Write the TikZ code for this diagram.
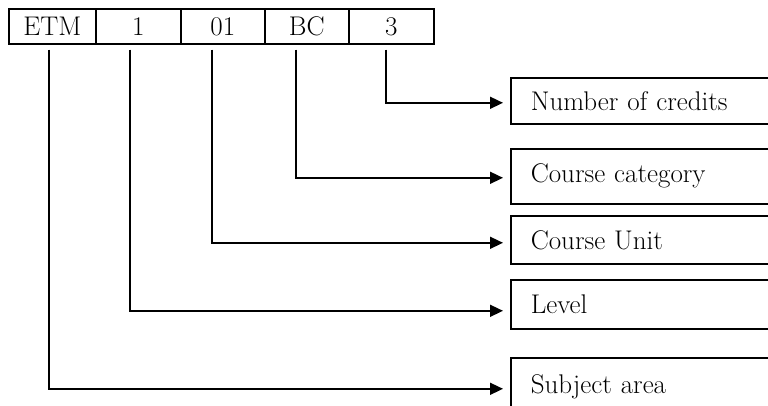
\documentclass[tikz,border=0pt]{standalone}
\usetikzlibrary{arrows.meta}
\begin{document}
\begin{tikzpicture}[x=1pt,y=-1pt,
  txt/.style={font=\fontsize{27}{32}\selectfont},
  cell/.style={draw, line width=1.6pt, inner sep=0pt, minimum height=35pt, anchor=north west, txt},
  rbox/.style={draw, line width=1.6pt, anchor=north west, text width=250pt, inner xsep=20pt, inner ysep=0pt, align=left, txt},
  conn/.style={line width=1.6pt, -{Triangle[length=13pt,width=12pt]}}]
\useasboundingbox (0,0) rectangle (768,406);
\clip (0,0) rectangle (768,406);
% top code cells
\node[cell, minimum width=87pt] (c1) at (8,8) {ETM};
\node[cell, minimum width=85pt] (c2) at (95,8) {1};
\node[cell, minimum width=84pt] (c3) at (180,8) {01};
\node[cell, minimum width=84pt] (c4) at (264,8) {BC};
\node[cell, minimum width=85pt] (c5) at (348,8) {3};
% description boxes
\node[rbox, minimum height=46pt] (credits) at (510,77) {Number of credits};
\node[rbox, minimum height=55pt] (cat) at (510,148) {Course category};
\node[rbox, minimum height=48pt] (unit) at (510,215) {Course Unit};
\node[rbox, minimum height=49pt] (level) at (510,279) {Level};
\node[rbox, minimum height=58pt] (subj) at (510,357) {Subject area};
% connectors
\draw[conn] ([xshift=-5.5pt,yshift=-5pt]c5.south) |- ([xshift=-7pt,yshift=-2pt]credits.west);
\draw[conn] ([xshift=-11pt,yshift=-5pt]c4.south) |- ([xshift=-7pt,yshift=-1.5pt]cat.west);
\draw[conn] ([xshift=-11pt,yshift=-5pt]c3.south) |- ([xshift=-7pt,yshift=-3pt]unit.west);
\draw[conn] ([xshift=-8.5pt,yshift=-5pt]c2.south) |- ([xshift=-7pt,yshift=-6.5pt]level.west);
\draw[conn] ([xshift=-3.5pt,yshift=-5pt]c1.south) |- ([xshift=-7pt,yshift=-2pt]subj.west);
\end{tikzpicture}
\end{document}
